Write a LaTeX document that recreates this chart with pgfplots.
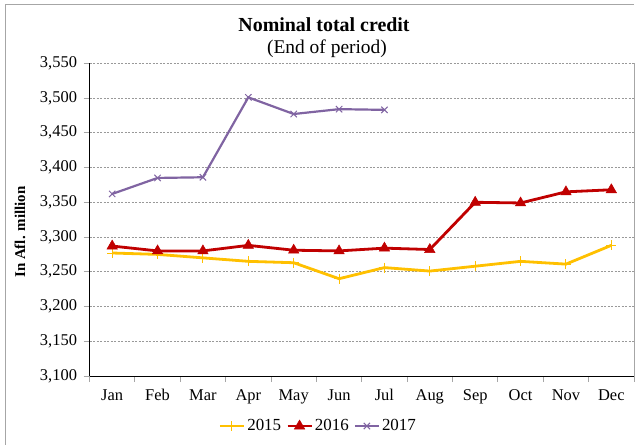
\documentclass[border=0pt]{standalone}
\usepackage{fontspec}
\setmainfont{Liberation Serif}
\usepackage{pgfplots}
\pgfplotsset{compat=1.18}
\definecolor{c2015}{HTML}{FFC000}
\definecolor{c2016}{HTML}{C00000}
\definecolor{c2017}{HTML}{8064A2}
\definecolor{frame}{HTML}{A6A6A6}
\begin{document}
\begin{tikzpicture}
% chart frame (only top and left edges show)
\draw[frame, line width=1bp] (5bp,0bp) -- (5bp,440bp) -- (634bp,440bp);
% titles
\node[font=\fontsize{20}{24}\selectfont\bfseries] at (324bp,420bp) {Nominal total credit};
\node[font=\fontsize{19.5}{24}\selectfont] at (327bp,396bp) {(End of period)};
\node[font=\fontsize{15}{18}\selectfont\bfseries, rotate=90] at (20bp,213bp) {In Afl. million};
\begin{axis}[
    at={(89.5bp,69bp)}, anchor=south west,
    scale only axis,
    width=544.5bp, height=312.7bp,
    xmin=-0.5, xmax=11.5,
    ymin=3100, ymax=3550,
    ytick={3100,3150,...,3550},
    xtick={0,...,11},
    xticklabels={Jan,Feb,Mar,Apr,May,Jun,Jul,Aug,Sep,Oct,Nov,Dec},
    minor xtick={-0.5,0.5,...,11.5},
    major x tick style={draw=none},
    minor x tick style={frame, line width=0.8bp},
    minor tick length=6bp,
    y tick style={frame, line width=0.8bp},
    major tick length=6bp,
    tick align=outside,
    xtick pos=bottom, ytick pos=left,
    ymajorgrids,
    major grid style={gray!80, line width=0.7bp, dash pattern=on 2bp off 1.5bp},
    axis line style={line width=1bp},
    axis x line*=bottom, axis y line*=left,
    x tick label style={font=\fontsize{16.5}{18}\selectfont, yshift=-4bp},
    y tick label style={font=\fontsize{16.5}{18}\selectfont, xshift=-3bp},
    /pgf/number format/.cd, 1000 sep={,}, assume math mode=true,
    /pgfplots/.cd,
    legend columns=-1,
    legend style={at={(0.42,-0.16)}, anchor=center, draw=none, fill=none,
        font=\fontsize{17}{18}\selectfont,
        /tikz/every even column/.append style={column sep=3bp}},
    legend image code/.code={
        \draw[mark repeat=2, mark phase=2]
            plot coordinates {(0bp,0bp) (12bp,0bp) (24bp,0bp)};},
    legend cell align=left,
    clip=false,
]
% right edge of plot area
\draw[frame, line width=1bp] (rel axis cs:1,0) -- (rel axis cs:1,1);
\addplot[c2015, line width=2.8bp, mark=+, mark size=5bp,
    mark options={line width=1bp}] coordinates {
    (0,3277) (1,3275) (2,3270) (3,3265) (4,3263) (5,3240)
    (6,3256) (7,3251) (8,3258) (9,3265) (10,3261) (11,3288)
};
\addlegendentry{2015}
\addplot[c2016, line width=2.8bp, mark=triangle*, mark size=6bp,
    mark options={line width=0.5bp}] coordinates {
    (0,3287) (1,3280) (2,3280) (3,3288) (4,3281) (5,3280)
    (6,3284) (7,3282) (8,3350) (9,3349) (10,3365) (11,3368)
};
\addlegendentry{2016}
\addplot[c2017, line width=2.2bp, mark=x, mark size=4.5bp,
    mark options={line width=1bp}] coordinates {
    (0,3362) (1,3385) (2,3386) (3,3501) (4,3477) (5,3484) (6,3483)
};
\addlegendentry{2017}
\end{axis}
\pgfresetboundingbox
\path[use as bounding box] (0,0) rectangle (641bp,445bp);
\end{tikzpicture}
\end{document}
